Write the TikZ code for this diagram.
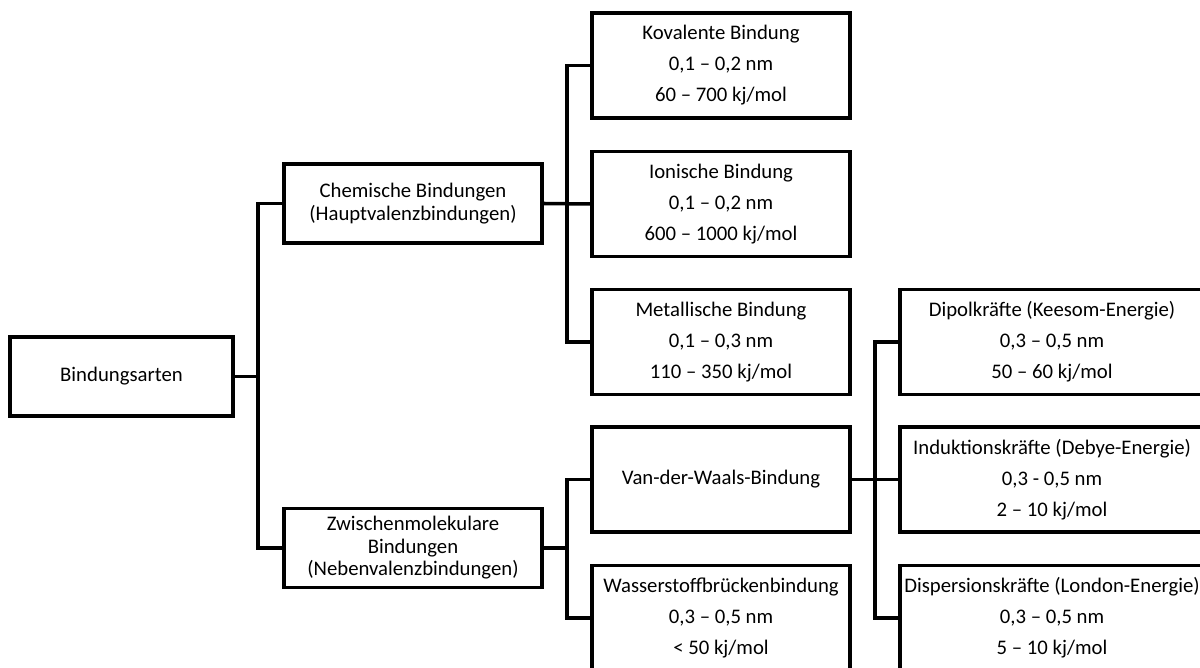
\documentclass[tikz,border=0pt]{standalone}
\usepackage{fontspec}
\setmainfont{Carlito}
\usepackage{tikz}

\begin{document}
\begin{tikzpicture}[line join=miter,
    box/.style={draw,line width=1.9pt,align=center,inner sep=2pt,minimum width=5.16cm,minimum height=1.58cm,font=\fontsize{11.8}{12.8}\selectfont},
    root/.style={box,minimum width=4.46cm},
    data/.style={box,minimum height=2.1cm,font=\fontsize{11.8}{17.6}\selectfont},
    wide/.style={data,minimum width=6.08cm},
    link/.style={line width=2pt}]

  \useasboundingbox (0,0) rectangle (24,13.34);
  \clip (0,0) rectangle (24,13.34);

  % root and the two main groups
  \node[root] (art)  at (2.43,5.81) {Bindungsarten};
  \node[box]  (chem) at (8.26,9.27) {Chemische Bindungen\\(Hauptvalenzbindungen)};
  \node[box]  (zwi)  at (8.26,2.38) {Zwischenmolekulare\\Bindungen\\(Nebenvalenzbindungen)};

  % --- second column ---
  \node[data] (kov) at (14.42,12.03) {Kovalente Bindung\\0,1 – 0,2 nm\\60 – 700 kj/mol};
  \node[data] (ion) at (14.42,9.26)  {Ionische Bindung\\0,1 – 0,2 nm\\600 – 1000 kj/mol};
  \node[data] (met) at (14.42,6.50)  {Metallische Bindung\\0,1 – 0,3 nm\\110 – 350 kj/mol};
  \node[data] (vdw) at (14.42,3.75)  {Van-der-Waals-Bindung};
  \node[data] (wsb) at (14.42,0.98)  {Wasserstoffbrückenbindung\\0,3 – 0,5 nm\\< 50 kj/mol};

  % --- third column (cut at the right edge) ---
  \node[wide] (dip)  at (21.04,6.50) {Dipolkräfte (Keesom-Energie)\\0,3 – 0,5 nm\\50 – 60 kj/mol};
  \node[wide] (ind)  at (21.04,3.75) {Induktionskräfte (Debye-Energie)\\0,3 - 0,5 nm\\2 – 10 kj/mol};
  \node[wide] (disp) at (21.04,0.98) {Dispersionskräfte (London-Energie)\\0,3 – 0,5 nm\\5 – 10 kj/mol};

  % junctions of the bracket lines
  \coordinate (j1) at (5.16,5.81);
  \coordinate (j2) at (11.34,9.26);
  \coordinate (j3) at (11.34,2.38);
  \coordinate (j4) at (17.5,3.75);

  % --- connectors ---
  \draw[link] (art.east) -- (j1);
  \draw[link] (chem.west) -| (j1) |- (zwi.west);
  \draw[link] (chem.east) -- (ion.west);
  \draw[link] (kov.west) -| (j2) |- (met.west);
  \draw[link] (zwi.east) -- (j3);
  \draw[link] (vdw.west) -| (j3) |- (wsb.west);
  \draw[link] (vdw.east) -- (ind.west);
  \draw[link] (dip.west) -| (j4) |- (disp.west);
\end{tikzpicture}
\end{document}
